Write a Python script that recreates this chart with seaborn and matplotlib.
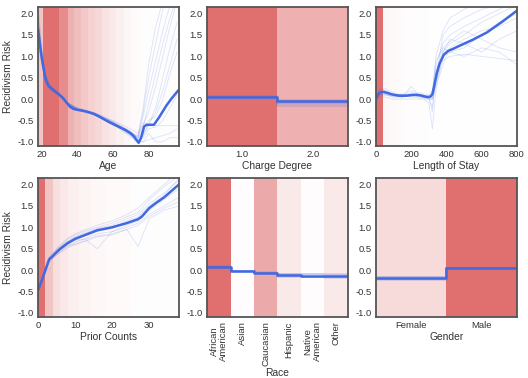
import numpy as np
import pandas as pd
import seaborn as sns
import matplotlib.pyplot as plt

# ---- data ----
age_x = [18, 19, 20, 21, 22, 23, 24, 26, 28, 30, 32, 34, 36, 38, 40, 43, 46, 49, 52, 55, 58, 61, 64, 67,
         70, 72, 73.5, 74.5, 76, 77.5, 79, 83, 86, 90, 93, 97]
age_y = [1.65, 1.3, 1.0, 0.75, 0.52, 0.38, 0.3, 0.24, 0.17, 0.1, 0.03, -0.08, -0.18, -0.23, -0.25, -0.27,
         -0.3, -0.34, -0.4, -0.47, -0.54, -0.6, -0.66, -0.72, -0.8, -0.88, -0.97, -1.02, -0.88, -0.64,
         -0.6, -0.6, -0.42, -0.15, 0.02, 0.22]
age_bx = [18, 20, 22, 25, 30, 35, 40, 50, 60, 70, 74, 77, 80, 84, 88, 92, 96]
age_boot = [
    [1.9, 1.1, 0.55, 0.3, 0.12, -0.1, -0.22, -0.33, -0.52, -0.75, -0.9, -0.4, 0.2, 0.9, 1.6, 2.2, 2.6],
    [1.4, 0.9, 0.45, 0.22, 0.08, -0.14, -0.25, -0.37, -0.58, -0.85, -1.05, -0.9, -0.7, -0.65, -0.5, -0.2, 0.1],
    [2.2, 1.2, 0.6, 0.28, 0.1, -0.1, -0.2, -0.32, -0.5, -0.7, -0.8, -0.6, -0.3, 0.3, 1.0, 1.7, 2.3],
    [1.5, 0.95, 0.48, 0.24, 0.09, -0.13, -0.24, -0.36, -0.56, -0.82, -0.95, -1.0, -0.95, -0.9, -0.85, -0.8, -0.7],
    [1.7, 1.05, 0.52, 0.27, 0.11, -0.11, -0.22, -0.34, -0.54, -0.78, -0.9, -0.55, -0.6, -0.2, 0.5, 1.2, 1.8],
    [1.3, 0.85, 0.42, 0.2, 0.07, -0.15, -0.26, -0.38, -0.6, -0.88, -1.0, -0.8, -0.62, -0.62, -0.62, -0.62, -0.62],
    [2.0, 1.15, 0.58, 0.3, 0.13, -0.09, -0.21, -0.33, -0.53, -0.77, -0.88, -0.3, 0.5, 1.3, 2.1, 2.5, 2.8],
    [1.6, 1.0, 0.5, 0.25, 0.1, -0.12, -0.23, -0.35, -0.55, -0.8, -0.97, -0.7, -0.5, -0.4, 0.0, 0.6, 1.1],
    [1.8, 1.02, 0.5, 0.26, 0.09, -0.12, -0.24, -0.35, -0.56, -0.83, -1.0, -1.0, -0.8, -1.0, -1.0, -0.9, -0.9],
    [1.55, 0.98, 0.47, 0.24, 0.1, -0.12, -0.23, -0.36, -0.55, -0.79, -0.92, -0.65, -0.1, 0.6, 1.3, 1.9, 2.4],
    [1.75, 1.0, 0.49, 0.25, 0.1, -0.11, -0.23, -0.35, -0.55, -0.8, -0.85, -0.2, 0.8, 1.7, 2.3, 2.6, 2.9],
    [1.45, 0.92, 0.46, 0.23, 0.09, -0.13, -0.24, -0.36, -0.57, -0.84, -0.98, -0.85, -0.6, -0.3, 0.2, 0.8, 1.4],
]
age_edges = [18, 21, 30, 35, 38, 42, 46, 50, 54, 58, 62, 66, 70, 75, 97]
age_dens = [0.4, 1.0, 0.8, 0.55, 0.45, 0.38, 0.32, 0.27, 0.2, 0.15, 0.1, 0.06, 0.03, 0.01]

los_x = [0, 10, 20, 40, 60, 90, 130, 170, 210, 250, 290, 310, 320, 330, 345, 360, 385, 410, 440, 470,
         550, 630, 720, 800]
los_y = [0.0, 0.1, 0.15, 0.17, 0.15, 0.11, 0.08, 0.08, 0.1, 0.09, 0.05, 0.06, 0.12, 0.3, 0.6, 0.82, 1.04,
         1.13, 1.18, 1.24, 1.39, 1.56, 1.82, 2.07]
los_bx = [0, 20, 50, 100, 150, 200, 250, 300, 320, 340, 380, 420, 500, 600, 700, 800]
los_boot = [
    [0.0, 0.25, 0.2, 0.1, 0.05, 0.15, 0.1, 0.0, 0.1, 0.8, 1.3, 1.5, 1.7, 1.9, 2.1, 2.3],
    [0.0, 0.1, 0.12, 0.05, 0.08, 0.05, 0.02, 0.05, 0.0, 0.4, 0.9, 1.0, 1.05, 1.0, 0.95, 0.9],
    [0.0, 0.2, 0.25, 0.15, 0.1, 0.2, 0.1, -0.1, -0.7, 0.2, 1.1, 1.3, 1.5, 1.8, 2.0, 2.2],
    [0.0, 0.05, 0.05, 0.0, 0.0, 0.0, 0.0, 0.0, 0.0, 0.6, 1.2, 1.35, 1.6, 1.4, 1.2, 1.1],
    [0.0, 0.15, 0.18, 0.12, 0.1, 0.08, 0.12, 0.05, 0.1, 0.7, 1.0, 1.1, 1.2, 1.5, 1.8, 2.0],
    [0.0, 0.12, 0.1, 0.08, 0.05, 0.3, 0.05, 0.02, -0.2, 0.5, 1.5, 1.7, 1.9, 2.1, 2.2, 2.3],
    [0.0, 0.18, 0.15, 0.1, 0.08, 0.1, 0.15, 0.1, 0.2, 0.9, 1.2, 1.1, 1.0, 1.2, 1.1, 0.8],
    [0.0, 0.22, 0.14, 0.1, 0.12, 0.1, 0.08, 0.0, 0.0, 0.3, 0.8, 1.2, 1.4, 1.6, 1.7, 1.9],
    [0.0, 0.08, 0.1, 0.05, 0.05, 0.12, 0.05, 0.05, -0.3, 0.6, 1.1, 1.4, 1.3, 1.1, 1.4, 1.6],
    [0.0, 0.16, 0.2, 0.12, 0.08, 0.06, 0.1, 0.06, 0.15, 1.0, 1.6, 1.9, 2.1, 2.3, 2.4, 2.5],
]
los_edges = [0, 40, 80, 120, 160, 200, 250, 300, 800]
los_dens = [1.0, 0.06, 0.04, 0.03, 0.02, 0.02, 0.01, 0.005]

prior_x = [0, 1, 2, 3, 4, 5, 6, 8, 10, 13, 16, 20, 24, 27, 28, 30, 32, 34, 36, 38]
prior_y = [-0.47, -0.25, 0.0, 0.25, 0.33, 0.42, 0.5, 0.63, 0.73, 0.83, 0.93, 1.0, 1.1, 1.19, 1.25, 1.45,
           1.58, 1.7, 1.85, 2.0]
prior_bx = [0, 2, 3, 5, 8, 10, 13, 16, 20, 24, 27, 30, 34, 38]
prior_boot = [
    [-0.5, 0.0, 0.2, 0.35, 0.55, 0.65, 0.75, 0.85, 0.9, 1.0, 1.1, 1.3, 1.5, 1.7],
    [-0.45, 0.05, 0.3, 0.5, 0.75, 0.85, 0.95, 1.05, 1.15, 1.3, 1.45, 1.7, 2.0, 2.3],
    [-0.48, -0.02, 0.22, 0.38, 0.6, 0.7, 0.72, 0.8, 0.85, 0.95, 0.55, 1.2, 1.4, 1.5],
    [-0.47, 0.02, 0.28, 0.45, 0.68, 0.78, 0.88, 0.98, 1.05, 1.2, 1.3, 1.55, 1.8, 2.1],
    [-0.46, 0.0, 0.25, 0.4, 0.58, 0.6, 0.7, 0.5, 0.9, 1.05, 1.15, 1.4, 1.65, 1.9],
    [-0.5, 0.03, 0.27, 0.48, 0.72, 0.82, 0.92, 1.0, 1.1, 1.25, 1.35, 1.65, 1.95, 2.2],
    [-0.44, -0.03, 0.2, 0.36, 0.52, 0.6, 0.68, 0.78, 0.82, 0.95, 1.05, 1.25, 1.45, 1.6],
    [-0.49, 0.01, 0.26, 0.42, 0.62, 0.72, 0.85, 0.95, 1.0, 1.15, 1.25, 1.5, 1.75, 2.15],
    [-0.47, 0.0, 0.24, 0.44, 0.66, 0.76, 0.86, 0.96, 1.02, 1.12, 1.22, 1.45, 1.7, 2.0],
]
prior_edges = [0, 2, 4, 6, 8, 11, 14, 18, 25, 38]
prior_dens = [1.0, 0.4, 0.22, 0.16, 0.11, 0.08, 0.05, 0.03, 0.01]

charge_cats = ['1.0', '2.0']
charge_y = [0.05, -0.05]
charge_boot = [[0.05, -0.05], [0.07, -0.08], [0.04, -0.12], [0.06, -0.03], [0.03, -0.15], [0.05, -0.07]]
charge_dens = [1.0, 0.55]

race_cats = ['African\nAmerican', 'Asian', 'Caucasian', 'Hispanic', 'Native\nAmerican', 'Other']
race_y = [0.08, -0.03, -0.06, -0.12, -0.13, -0.14]
race_boot = [[0.08, -0.02, -0.06, -0.1, -0.1, -0.12], [0.09, -0.04, -0.07, -0.16, -0.17, -0.18],
             [0.07, -0.03, -0.05, -0.08, -0.09, -0.1], [0.08, -0.03, -0.06, -0.14, -0.16, -0.16]]
race_dens = [1.0, 0.02, 0.6, 0.15, 0.02, 0.15]

gender_cats = ['Female', 'Male']
gender_y = [-0.18, 0.05]
gender_boot = [[-0.15, 0.05], [-0.22, 0.06], [-0.17, 0.04], [-0.2, 0.05]]
gender_dens = [0.25, 1.0]

RED = '#e07070'
BLUE = '#4169e1'

sns.set_style('white')
plt.rcParams['font.family'] = ['Liberation Sans', 'DejaVu Sans']
plt.rcParams['axes.unicode_minus'] = False

fig, axes = plt.subplots(2, 3, figsize=(5.28, 3.78), dpi=100)
plt.subplots_adjust(left=0.072, right=0.979, top=0.981, bottom=0.161, wspace=0.2, hspace=0.23)


def style(ax, xlabel, ylabel=None):
    ax.set_ylim(-1.1, 2.15)
    ax.set_yticks([-1.0, -0.5, 0.0, 0.5, 1.0, 1.5, 2.0])
    ax.tick_params(labelsize=6.8, length=0, pad=3, colors='#333333')
    ax.set_xlabel(xlabel, fontsize=7.4, labelpad=1, color='#333333')
    if ylabel:
        ax.set_ylabel(ylabel, fontsize=7.4, labelpad=3, color='#333333')
    else:
        ax.set_ylabel('')
    for s in ax.spines.values():
        s.set_color('#555555')
        s.set_linewidth(1.3)


def numeric(ax, x, y, bx, boot, edges, dens, xlim, xticks, xlabel, ylabel=None):
    for i in range(len(dens)):
        ax.axvspan(edges[i], edges[i + 1], color=RED, alpha=dens[i], lw=0)
    for b in boot:
        ax.plot(bx, b, color=BLUE, alpha=0.18, lw=0.6)
    sns.lineplot(x=x, y=y, ax=ax, color=BLUE, lw=1.8, estimator=None, sort=False)
    ax.set_xlim(*xlim)
    ax.set_xticks(xticks)
    style(ax, xlabel, ylabel)


def categorical(ax, cats, y, boot, dens, xlabel, rot=0):
    n = len(cats)
    edges = np.arange(n + 1) - 0.5
    for i in range(n):
        ax.axvspan(edges[i], edges[i + 1], color=RED, alpha=dens[i], lw=0)
    for b in boot:
        ax.plot(edges, list(b) + [b[-1]], drawstyle='steps-post', color=BLUE, alpha=0.2, lw=1.2)
    df = pd.DataFrame({'x': edges, 'y': list(y) + [y[-1]]})
    sns.lineplot(data=df, x='x', y='y', ax=ax, color=BLUE, lw=1.8, drawstyle='steps-post',
                 estimator=None)
    ax.set_xlim(-0.5, n - 0.5)
    ax.set_xticks(range(n))
    ax.set_xticklabels(cats, rotation=rot, linespacing=1.0)
    style(ax, xlabel)


numeric(axes[0, 0], age_x, age_y, age_bx, age_boot, age_edges, age_dens, (18, 97), [20, 40, 60, 80],
        'Age', 'Recidivism Risk')
categorical(axes[0, 1], charge_cats, charge_y, charge_boot, charge_dens, 'Charge Degree')
numeric(axes[0, 2], los_x, los_y, los_bx, los_boot, los_edges, los_dens, (0, 800), [0, 200, 400, 600, 800],
        'Length of Stay')
numeric(axes[1, 0], prior_x, prior_y, prior_bx, prior_boot, prior_edges, prior_dens, (0, 38), [0, 10, 20, 30],
        'Prior Counts', 'Recidivism Risk')
categorical(axes[1, 1], race_cats, race_y, race_boot, race_dens, 'Race', rot=90)
categorical(axes[1, 2], gender_cats, gender_y, gender_boot, gender_dens, 'Gender')

plt.savefig('out.png', dpi=100)
